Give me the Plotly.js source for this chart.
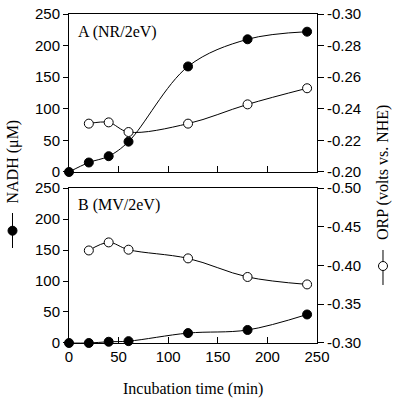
<!DOCTYPE html>
<html>
<head>
<meta charset="utf-8">
<script src="https://cdn.plot.ly/plotly-3.0.1.min.js"></script>
<style>html,body{margin:0;padding:0;background:#fff}#chart{width:400px;height:400px}</style>
</head>
<body>
<div id="chart"></div>
<script>
// Data
var timeA = [0, 20, 40, 60, 120, 180, 240];
var nadhA = [0, 15, 25, 48, 167, 210, 222];
var orpTimeA = [20, 40, 60, 120, 180, 240];
var orpA = [-0.2306, -0.2314, -0.2253, -0.2306, -0.2428, -0.2530];

var timeB = [0, 20, 40, 60, 120, 180, 240];
var nadhB = [0, 0, 2, 3, 16, 21, 46];
var orpTimeB = [20, 40, 60, 120, 180, 240];
var orpB = [-0.4194, -0.4298, -0.4204, -0.4092, -0.3852, -0.3756];

var xTicks = [0, 50, 100, 150, 200, 250];
var nadhTicks = [0, 50, 100, 150, 200, 250];
var orpTickValsA = [-0.20, -0.22, -0.24, -0.26, -0.28, -0.30];
var orpTickTextA = ["-0.20", "-0.22", "-0.24", "-0.26", "-0.28", "-0.30"];
var orpTickValsB = [-0.30, -0.35, -0.40, -0.45, -0.50];
var orpTickTextB = ["-0.30", "-0.35", "-0.40", "-0.45", "-0.50"];

var sans = "Liberation Sans, Arial, sans-serif";
var serif = "Liberation Serif, Times New Roman, serif";

function filled(x, y, xa, ya) {
  return {x: x, y: y, xaxis: xa, yaxis: ya, type: 'scatter', mode: 'lines+markers',
    cliponaxis: false,
    line: {color: '#000', width: 1, shape: 'spline', smoothing: 1},
    marker: {symbol: 'circle', size: 9, color: '#000', line: {color: '#000', width: 1}}};
}
function open(x, y, xa, ya) {
  return {x: x, y: y, xaxis: xa, yaxis: ya, type: 'scatter', mode: 'lines+markers',
    cliponaxis: false,
    line: {color: '#000', width: 1, shape: 'spline', smoothing: 1},
    marker: {symbol: 'circle', size: 9, color: '#fff', line: {color: '#000', width: 1}}};
}

var traces = [
  open(orpTimeA, orpA, 'x2', 'y4'),
  filled(timeA, nadhA, 'x2', 'y3'),
  open(orpTimeB, orpB, 'x', 'y2'),
  filled(timeB, nadhB, 'x', 'y')
];

var tickFont = {family: sans, size: 15, color: '#000'};
var xCommon = {range: [0, 250], tickvals: xTicks, ticks: 'inside', ticklen: 6, tickwidth: 1,
  tickcolor: '#000', showline: true, linecolor: '#000', linewidth: 1, mirror: true,
  showgrid: false, zeroline: false, tickfont: tickFont};

function legendSymbol(xc, yTop, yBot, yc, fill) {
  return [
    {type: 'line', xref: 'paper', yref: 'paper', x0: xc, x1: xc, y0: yTop, y1: yBot,
      line: {color: '#000', width: 1}},
    {type: 'circle', xref: 'paper', yref: 'paper', xsizemode: 'pixel', ysizemode: 'pixel',
      xanchor: xc, yanchor: yc, x0: -4.5, x1: 4.5, y0: -4.5, y1: 4.5,
      fillcolor: fill, line: {color: '#000', width: 1}}
  ];
}

var layout = {
  width: 400, height: 400,
  margin: {l: 69, r: 83, t: 14, b: 57},
  paper_bgcolor: '#fff', plot_bgcolor: '#fff',
  showlegend: false,
  xaxis: Object.assign({}, xCommon, {anchor: 'y', domain: [0, 1]}),
  xaxis2: Object.assign({}, xCommon, {anchor: 'y3', domain: [0, 1], showticklabels: false}),
  yaxis: {domain: [0, 0.4711], range: [0, 250], tickvals: nadhTicks, ticks: 'outside', ticklen: 5,
    tickcolor: '#000', showline: true, linecolor: '#000', linewidth: 1, showgrid: false, zeroline: false,
    tickfont: tickFont, anchor: 'x'},
  yaxis2: {overlaying: 'y', side: 'right', anchor: 'x', range: [-0.30, -0.50], tickvals: orpTickValsB,
    ticktext: orpTickTextB, ticks: 'outside', ticklen: 6, tickcolor: '#000', showline: true,
    linecolor: '#000', linewidth: 1, showgrid: false, zeroline: false, tickfont: tickFont},
  yaxis3: {domain: [0.5198, 1], range: [0, 250], tickvals: nadhTicks, ticks: 'outside', ticklen: 5,
    tickcolor: '#000', showline: true, linecolor: '#000', linewidth: 1, showgrid: false, zeroline: false,
    tickfont: tickFont, anchor: 'x2'},
  yaxis4: {overlaying: 'y3', side: 'right', anchor: 'x2', range: [-0.20, -0.30], tickvals: orpTickValsA,
    ticktext: orpTickTextA, ticks: 'outside', ticklen: 6, tickcolor: '#000', showline: true,
    linecolor: '#000', linewidth: 1, showgrid: false, zeroline: false, tickfont: tickFont},
  shapes: legendSymbol(-0.2278, 0.3951, 0.2888, 0.3413, '#000')
    .concat(legendSymbol(1.2661, 0.2827, 0.1763, 0.2340, '#fff')),
  annotations: [
    {text: 'A (NR/2eV)', xref: 'paper', yref: 'paper', x: 0.03, y: 0.945, xanchor: 'left', yanchor: 'middle',
      showarrow: false, font: {family: serif, size: 16, color: '#000'}},
    {text: 'B (MV/2eV)', xref: 'paper', yref: 'paper', x: 0.03, y: 0.42, xanchor: 'left', yanchor: 'middle',
      showarrow: false, font: {family: serif, size: 16, color: '#000'}},
    {text: 'Incubation time (min)', xref: 'paper', yref: 'paper', x: 0.5, y: -0.14, xanchor: 'center',
      yanchor: 'middle', showarrow: false, font: {family: serif, size: 16, color: '#000'}},
    {text: 'NADH (\u03BCM)', xref: 'paper', yref: 'paper', x: -0.2278, y: 0.5502,
      xanchor: 'center', yanchor: 'middle', textangle: -90, showarrow: false,
      font: {family: serif, size: 16, color: '#000'}},
    {text: 'ORP (volts vs. NHE)', xref: 'paper', yref: 'paper', x: 1.2661, y: 0.5198,
      xanchor: 'center', yanchor: 'middle', textangle: -90, showarrow: false,
      font: {family: serif, size: 16, color: '#000'}}
  ]
};

Plotly.newPlot('chart', traces, layout, {staticPlot: true, displayModeBar: false});
</script>
</body>
</html>
